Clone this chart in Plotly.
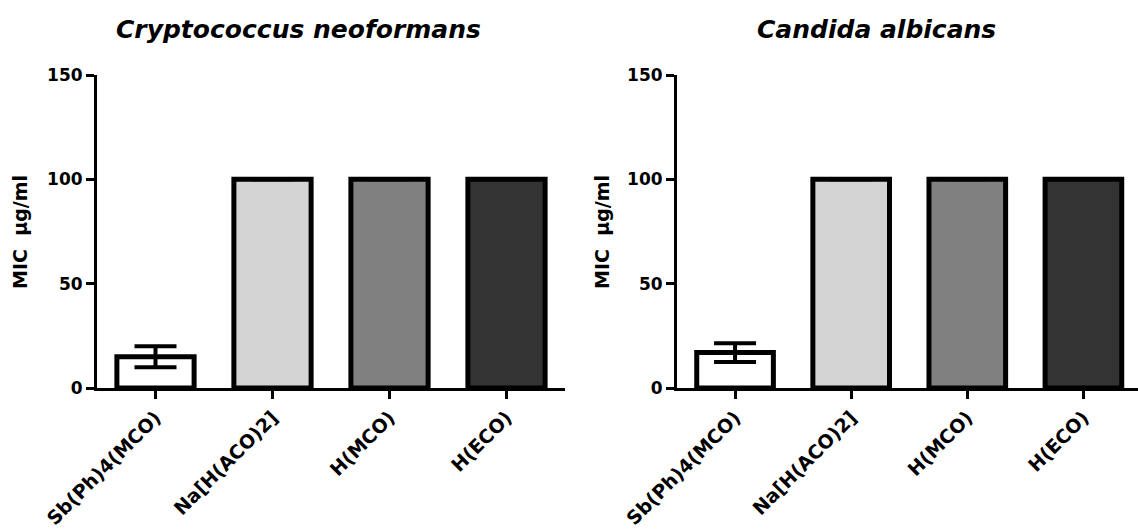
import plotly.graph_objects as go

# MIC values (µg/ml) for each compound against the two fungi
compounds = ["Sb(Ph)4(MCO)", "Na[H(ACO)2]", "H(MCO)", "H(ECO)"]
crypto_mic = [15, 100, 100, 100]
crypto_err = [5, 0, 0, 0]
candida_mic = [17, 100, 100, 100]
candida_err = [4.5, 0, 0, 0]
bar_colors = ["#ffffff", "#d4d4d4", "#808080", "#333333"]
panel_titles = ["Cryptococcus neoformans", "Candida albicans"]
y_ticks = [0, 50, 100, 150]

W, H = 1138, 532
FONT = "DejaVu Sans, Arial, sans-serif"

fig = go.Figure()

for i, (vals, errs) in enumerate([(crypto_mic, crypto_err), (candida_mic, candida_err)]):
    sfx = "" if i == 0 else "2"
    fig.add_trace(go.Bar(
        x=compounds, y=vals,
        width=0.66,
        marker=dict(color=bar_colors, line=dict(color="black", width=5)),
        error_y=dict(type="data", array=errs, visible=True,
                     color="black", thickness=4, width=21),
        xaxis="x" + sfx, yaxis="y" + sfx,
        showlegend=False,
    ))

xdom = [[97 / W, 565 / W], [677 / W, 1.0]]
ydom = [(H - 388) / H, (H - 75) / H]
xranges = [[-0.5, 3.5], [-0.5, 3.47]]

for i in range(2):
    sfx = "" if i == 0 else "2"
    fig.update_layout(**{
        "xaxis" + sfx: dict(
            domain=xdom[i], range=xranges[i], anchor="y" + sfx,
            automargin=False,
            showline=True, linecolor="black", linewidth=3,
            ticks="outside", ticklen=8, tickwidth=3, tickcolor="black",
            tickangle=-45, showgrid=False, zeroline=False,
            tickfont=dict(family=FONT, size=19, color="black", weight="bold"),
        ),
        "yaxis" + sfx: dict(
            domain=ydom, range=[0, 150], anchor="x" + sfx,
            automargin=False,
            showline=True, linecolor="black", linewidth=3,
            ticks="outside", ticklen=8, tickwidth=3, tickcolor="black",
            tickvals=y_ticks, showgrid=False, zeroline=False,
            tickfont=dict(family=FONT, size=17, color="black", weight="bold"),
        ),
    })

annotations = []
for cx, title in zip([298, 876], panel_titles):
    annotations.append(dict(
        x=cx / W, y=1 - 30 / H, xref="paper", yref="paper",
        text="<b><i>" + title + "</i></b>", showarrow=False,
        font=dict(family=FONT, size=25, color="black"),
        xanchor="center", yanchor="middle",
    ))
for ax in [20, 602]:
    annotations.append(dict(
        x=ax / W, y=1 - 232 / H, xref="paper", yref="paper",
        text="<b>MIC\u00a0\u00a0μg/ml</b>", showarrow=False, textangle=-90,
        font=dict(family=FONT, size=19, color="black"),
        xanchor="center", yanchor="middle",
    ))

fig.update_layout(
    width=W, height=H,
    margin=dict(l=0, r=0, t=0, b=0, autoexpand=False),
    paper_bgcolor="white", plot_bgcolor="white",
    annotations=annotations,
)

fig.write_html("out.html")
